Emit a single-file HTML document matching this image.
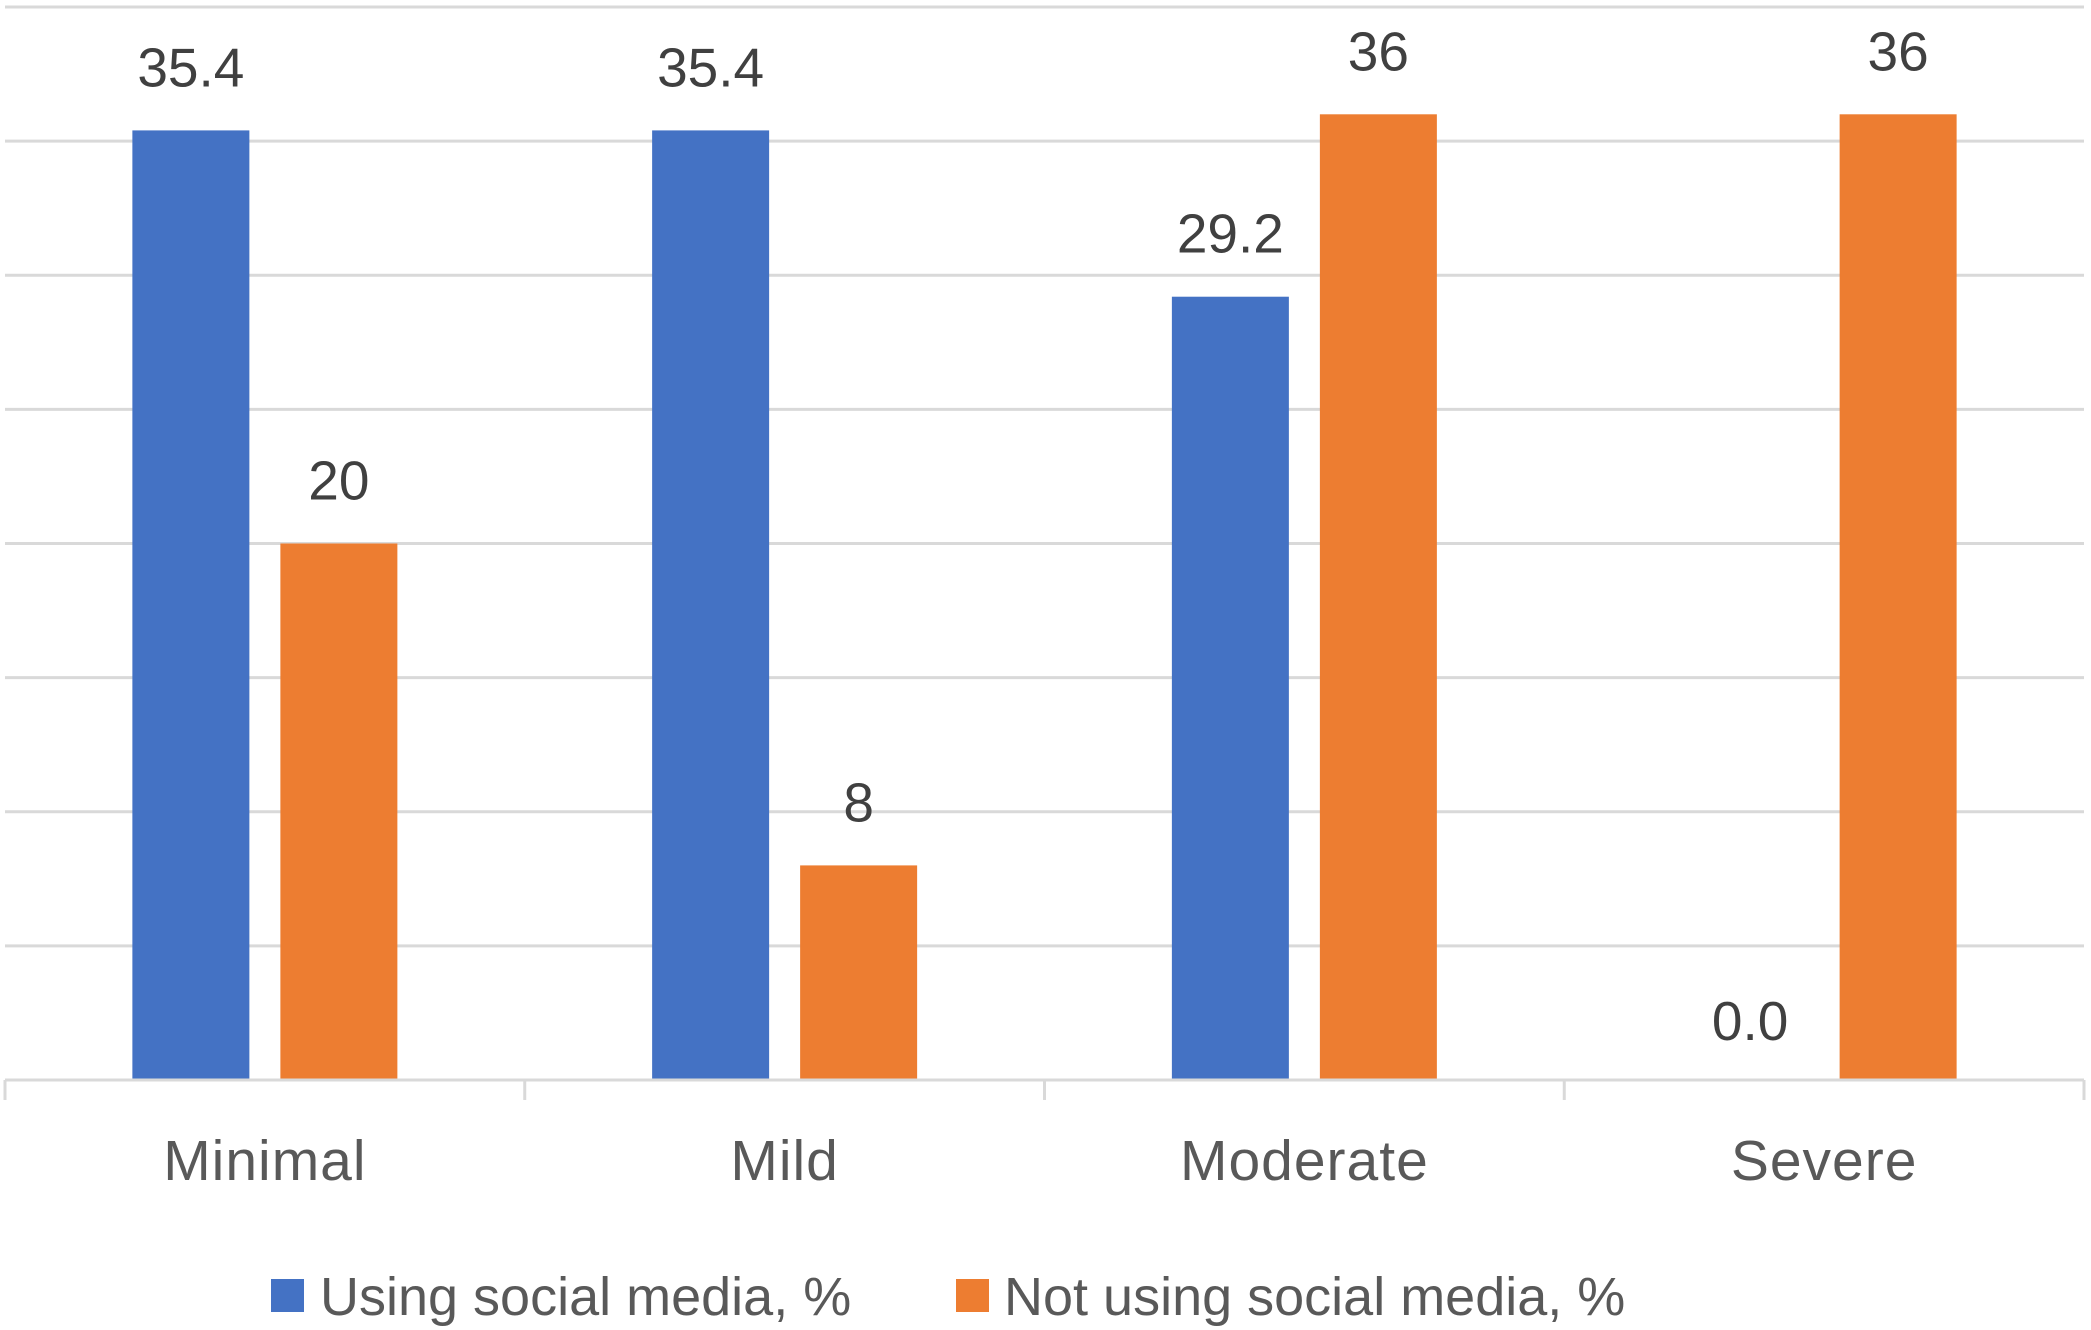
<!DOCTYPE html>
<html><head><meta charset="utf-8"><style>
html,body{margin:0;padding:0;background:#fff;}
svg{display:block;font-family:"Liberation Sans",sans-serif;}
</style></head><body>
<svg id="chart" width="2091" height="1330" viewBox="0 0 2091 1330" xmlns="http://www.w3.org/2000/svg">
<g id="grid"></g>
<g id="bars"></g>
<g id="labels"></g>
<g id="xaxis"></g>
<g id="legend">
  <rect x="271" y="1279" width="33" height="33" fill="#4472C4"/>
  <text x="320" y="1315" font-size="54" fill="#595959">Using social media, %</text>
  <rect x="956" y="1279" width="33" height="33" fill="#ED7D31"/>
  <text x="1004" y="1315" font-size="54" fill="#595959">Not using social media, %</text>
</g>
</svg>
<script>
const categories = ["Minimal", "Mild", "Moderate", "Severe"];
const usingValues = [35.4, 35.4, 29.2, 0.0];
const notUsingValues = [20, 8, 36, 36];
const usingLabels = ["35.4", "35.4", "29.2", "0.0"];
const notUsingLabels = ["20", "8", "36", "36"];
const gridTicks = [0, 5, 10, 15, 20, 25, 30, 35, 40];

const NS = "http://www.w3.org/2000/svg";
const plotL = 5, plotR = 2084, plotT = 7, plotB = 1080, yMax = 40;
const catW = (plotR - plotL) / categories.length;
const barW = 117, gap = 31;
function y(v) { return plotB - (v / yMax) * (plotB - plotT); }
function catCenter(i) { return plotL + catW * (i + 0.5); }
function mk(tag, attrs, parent) {
  const el = document.createElementNS(NS, tag);
  for (const k in attrs) el.setAttribute(k, attrs[k]);
  parent.appendChild(el);
  return el;
}
const grid = document.getElementById("grid");
gridTicks.forEach(t => {
  if (t === 0) return;
  const l = mk("line", {x1: plotL, x2: plotR, y1: y(t), y2: y(t), stroke: "#d9d9d9", "stroke-width": 3}, grid);
  
  
});
const bars = document.getElementById("bars");
const labels = document.getElementById("labels");
function drawSeries(vals, labs, offset, color, name) {
  vals.forEach((v, i) => {
    const cx = catCenter(i) + offset;
    if (v > 0) {
      const r = mk("rect", {x: cx - barW / 2, y: y(v), width: barW, height: plotB - y(v), fill: color}, bars);
      
      
    }
    const t = mk("text", {x: cx, y: y(v) - (v > 0 ? 44 : 40), "font-size": 55, fill: "#404040", "text-anchor": "middle"}, labels);
    t.textContent = labs[i];
    
    
  });
}
drawSeries(usingValues, usingLabels, -(gap / 2 + barW / 2), "#4472C4", "using");
drawSeries(notUsingValues, notUsingLabels, gap / 2 + barW / 2, "#ED7D31", "not-using");
const xaxis = document.getElementById("xaxis");
const ax = mk("line", {x1: plotL, x2: plotR, y1: plotB, y2: plotB, stroke: "#d9d9d9", "stroke-width": 3}, xaxis);


for (let i = 0; i <= categories.length; i++) {
  const x = plotL + catW * i;
  const tk = mk("line", {x1: x, x2: x, y1: plotB, y2: plotB + 20, stroke: "#d9d9d9", "stroke-width": 3}, xaxis);
  
  
}
categories.forEach((c, i) => {
  const t = mk("text", {x: catCenter(i), y: 1180, "font-size": 57, "letter-spacing": 1, fill: "#595959", "text-anchor": "middle"}, xaxis);
  t.textContent = c;
  
  
});
</script>
</body></html>
